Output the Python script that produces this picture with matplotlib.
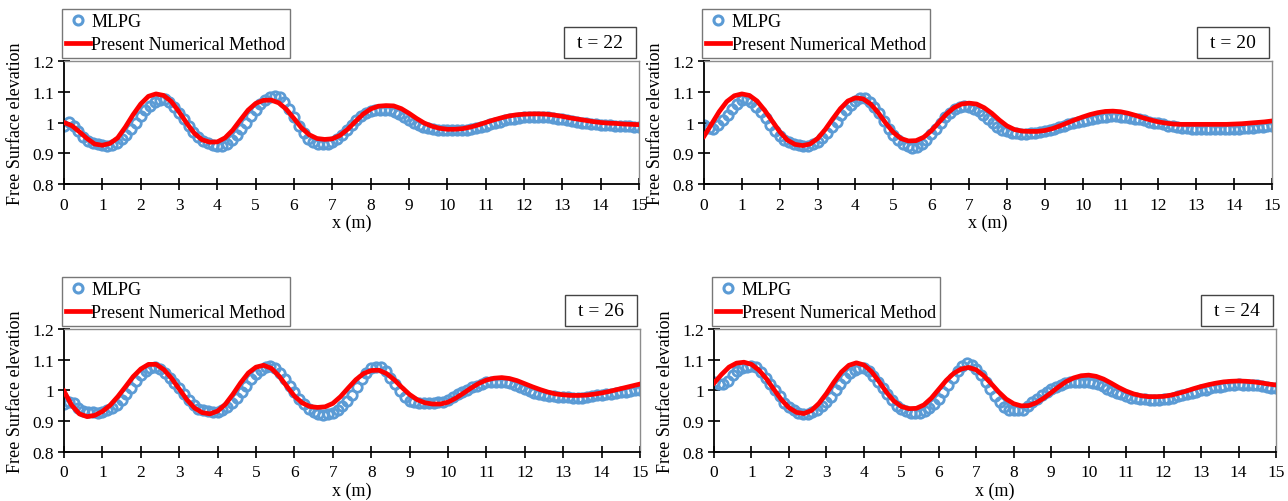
import matplotlib
matplotlib.use("Agg")
import matplotlib.pyplot as plt
from matplotlib.lines import Line2D
from matplotlib.patches import Rectangle

plt.rcParams['font.family'] = ['Liberation Serif', 'DejaVu Serif']

# x positions of the MLPG particles (m), 0.125 m apart
x_mlpg = [0.0, 0.125, 0.25, 0.375, 0.5, 0.625, 0.75, 0.875, 1.0, 1.125,
          1.25, 1.375, 1.5, 1.625, 1.75, 1.875, 2.0, 2.125, 2.25, 2.375,
          2.5, 2.625, 2.75, 2.875, 3.0, 3.125, 3.25, 3.375, 3.5, 3.625,
          3.75, 3.875, 4.0, 4.125, 4.25, 4.375, 4.5, 4.625, 4.75, 4.875,
          5.0, 5.125, 5.25, 5.375, 5.5, 5.625, 5.75, 5.875, 6.0, 6.125,
          6.25, 6.375, 6.5, 6.625, 6.75, 6.875, 7.0, 7.125, 7.25, 7.375,
          7.5, 7.625, 7.75, 7.875, 8.0, 8.125, 8.25, 8.375, 8.5, 8.625,
          8.75, 8.875, 9.0, 9.125, 9.25, 9.375, 9.5, 9.625, 9.75, 9.875,
          10.0, 10.125, 10.25, 10.375, 10.5, 10.625, 10.75, 10.875, 11.0, 11.125,
          11.25, 11.375, 11.5, 11.625, 11.75, 11.875, 12.0, 12.125, 12.25, 12.375,
          12.5, 12.625, 12.75, 12.875, 13.0, 13.125, 13.25, 13.375, 13.5, 13.625,
          13.75, 13.875, 14.0, 14.125, 14.25, 14.375, 14.5, 14.625, 14.75, 14.875,
          15.0]

# x positions of the numerical curve samples (m)
x_num = [0.0, 0.2, 0.4, 0.6, 0.8, 1.0, 1.2, 1.4, 1.6, 1.8,
         2.0, 2.2, 2.4, 2.6, 2.8, 3.0, 3.2, 3.4, 3.6, 3.8,
         4.0, 4.2, 4.4, 4.6, 4.8, 5.0, 5.2, 5.4, 5.6, 5.8,
         6.0, 6.2, 6.4, 6.6, 6.8, 7.0, 7.2, 7.4, 7.6, 7.8,
         8.0, 8.2, 8.4, 8.6, 8.8, 9.0, 9.2, 9.4, 9.6, 9.8,
         10.0, 10.2, 10.4, 10.6, 10.8, 11.0, 11.2, 11.4, 11.6, 11.8,
         12.0, 12.2, 12.4, 12.6, 12.8, 13.0, 13.2, 13.4, 13.6, 13.8,
         14.0, 14.2, 14.4, 14.6, 14.8, 15.0]

# t = 22
mlpg_t22 = [0.990, 1.002, 0.990, 0.972, 0.952, 0.940, 0.934, 0.929, 0.926, 0.925,
            0.927, 0.934, 0.945, 0.960, 0.978, 1.000, 1.020, 1.040, 1.055, 1.067,
            1.074, 1.076, 1.068, 1.052, 1.032, 1.010, 0.988, 0.968, 0.952, 0.940,
            0.932, 0.927, 0.924, 0.925, 0.930, 0.942, 0.958, 0.978, 1.000, 1.022,
            1.042, 1.060, 1.074, 1.083, 1.086, 1.082, 1.068, 1.045, 1.018, 0.990,
            0.965, 0.947, 0.936, 0.930, 0.929, 0.931, 0.936, 0.946, 0.960, 0.976,
            0.993, 1.008, 1.021, 1.030, 1.036, 1.040, 1.042, 1.042, 1.040, 1.035,
            1.027, 1.018, 1.008, 0.999, 0.991, 0.985, 0.981, 0.978, 0.976, 0.975,
            0.974, 0.974, 0.974, 0.975, 0.976, 0.978, 0.981, 0.985, 0.989, 0.994,
            0.998, 1.003, 1.007, 1.010, 1.013, 1.015, 1.017, 1.018, 1.018, 1.018,
            1.018, 1.017, 1.015, 1.013, 1.011, 1.008, 1.005, 1.003, 1.000, 0.998,
            0.996, 0.994, 0.993, 0.992, 0.991, 0.990, 0.989, 0.988, 0.987, 0.986,
            0.984]
num_t22 = [1.000, 0.990, 0.970, 0.948, 0.930, 0.926, 0.932, 0.950, 0.985, 1.025,
           1.060, 1.085, 1.093, 1.088, 1.068, 1.035, 0.998, 0.965, 0.944, 0.936,
           0.937, 0.950, 0.975, 1.008, 1.040, 1.062, 1.072, 1.073, 1.064, 1.043,
           1.013, 0.982, 0.960, 0.948, 0.945, 0.947, 0.958, 0.978, 1.003, 1.027,
           1.044, 1.053, 1.055, 1.054, 1.045, 1.030, 1.013, 0.998, 0.988, 0.981,
           0.978, 0.978, 0.980, 0.985, 0.992, 1.000, 1.008, 1.015, 1.021, 1.025,
           1.027, 1.028, 1.028, 1.027, 1.024, 1.020, 1.015, 1.011, 1.007, 1.003,
           1.000, 0.998, 0.997, 0.995, 0.994, 0.993]

# t = 20
mlpg_t20 = [0.991, 0.982, 0.980, 0.992, 1.008, 1.026, 1.044, 1.060, 1.072, 1.075,
            1.068, 1.052, 1.035, 1.015, 0.993, 0.972, 0.955, 0.944, 0.936, 0.931,
            0.928, 0.925, 0.924, 0.929, 0.938, 0.950, 0.966, 0.984, 1.003, 1.023,
            1.042, 1.058, 1.071, 1.080, 1.080, 1.068, 1.052, 1.030, 1.005, 0.980,
            0.958, 0.942, 0.931, 0.923, 0.918, 0.920, 0.929, 0.943, 0.962, 0.980,
            0.998, 1.017, 1.032, 1.043, 1.051, 1.054, 1.052, 1.045, 1.037, 1.026,
            1.012, 0.998, 0.986, 0.977, 0.971, 0.967, 0.965, 0.964, 0.964, 0.965,
            0.966, 0.969, 0.972, 0.976, 0.980, 0.985, 0.989, 0.994, 0.999, 1.003,
            1.006, 1.009, 1.012, 1.015, 1.017, 1.019, 1.020, 1.020, 1.019, 1.018,
            1.016, 1.013, 1.010, 1.007, 1.003, 1.000, 0.997, 0.994, 0.990, 0.987,
            0.985, 0.983, 0.981, 0.980, 0.979, 0.978, 0.978, 0.978, 0.978, 0.978,
            0.978, 0.978, 0.979, 0.980, 0.981, 0.982, 0.983, 0.985, 0.986, 0.988,
            0.989]
num_t20 = [0.955, 0.995, 1.035, 1.068, 1.087, 1.093, 1.088, 1.070, 1.040, 1.005,
           0.970, 0.943, 0.929, 0.925, 0.930, 0.948, 0.977, 1.012, 1.045, 1.070,
           1.080, 1.077, 1.060, 1.032, 0.998, 0.968, 0.948, 0.940, 0.941, 0.952,
           0.973, 1.000, 1.027, 1.048, 1.060, 1.063, 1.060, 1.048, 1.030, 1.008,
           0.989, 0.977, 0.972, 0.971, 0.971, 0.974, 0.980, 0.989, 0.999, 1.009,
           1.018, 1.026, 1.032, 1.036, 1.037, 1.035, 1.030, 1.023, 1.015, 1.008,
           1.002, 0.998, 0.995, 0.994, 0.994, 0.994, 0.994, 0.994, 0.994, 0.994,
           0.995, 0.996, 0.998, 1.000, 1.002, 1.005]

# t = 26
mlpg_t26 = [0.955, 0.963, 0.958, 0.943, 0.934, 0.931, 0.929, 0.928, 0.930, 0.935,
            0.942, 0.953, 0.968, 0.988, 1.009, 1.030, 1.049, 1.064, 1.074, 1.076,
            1.071, 1.058, 1.042, 1.025, 1.007, 0.987, 0.968, 0.953, 0.941, 0.935,
            0.932, 0.930, 0.931, 0.936, 0.945, 0.958, 0.975, 0.994, 1.015, 1.036,
            1.054, 1.068, 1.078, 1.080, 1.073, 1.057, 1.036, 1.015, 0.994, 0.973,
            0.955, 0.939, 0.929, 0.923, 0.921, 0.922, 0.927, 0.937, 0.951, 0.966,
            0.985, 1.010, 1.036, 1.058, 1.072, 1.078, 1.075, 1.062, 1.042, 1.020,
            0.998, 0.980, 0.967, 0.961, 0.959, 0.959, 0.959, 0.959, 0.961, 0.963,
            0.970, 0.978, 0.987, 0.995, 1.003, 1.010, 1.016, 1.022, 1.027, 1.029,
            1.029, 1.029, 1.027, 1.023, 1.017, 1.012, 1.004, 0.998, 0.993, 0.988,
            0.985, 0.983, 0.981, 0.980, 0.979, 0.978, 0.977, 0.977, 0.977, 0.978,
            0.981, 0.984, 0.986, 0.987, 0.989, 0.991, 0.994, 0.996, 0.999, 1.001,
            1.003]
num_t26 = [0.998, 0.952, 0.924, 0.915, 0.919, 0.932, 0.952, 0.980, 1.012, 1.045,
           1.070, 1.085, 1.085, 1.068, 1.040, 1.005, 0.970, 0.943, 0.928, 0.924,
           0.933, 0.955, 0.988, 1.025, 1.057, 1.076, 1.082, 1.072, 1.047, 1.014,
           0.982, 0.960, 0.948, 0.945, 0.947, 0.958, 0.980, 1.008, 1.035, 1.055,
           1.065, 1.066, 1.055, 1.035, 1.010, 0.987, 0.970, 0.960, 0.956, 0.956,
           0.962, 0.975, 0.991, 1.008, 1.023, 1.034, 1.040, 1.042, 1.039, 1.032,
           1.022, 1.012, 1.003, 0.995, 0.989, 0.986, 0.984, 0.984, 0.985, 0.988,
           0.992, 0.997, 1.003, 1.009, 1.015, 1.021]

# t = 24
mlpg_t24 = [1.029, 1.022, 1.021, 1.030, 1.049, 1.062, 1.072, 1.078, 1.080, 1.076,
            1.060, 1.042, 1.022, 1.002, 0.981, 0.960, 0.945, 0.935, 0.926, 0.922,
            0.925, 0.931, 0.938, 0.948, 0.962, 0.980, 1.001, 1.020, 1.040, 1.056,
            1.068, 1.074, 1.072, 1.062, 1.047, 1.028, 1.008, 0.988, 0.968, 0.951,
            0.940, 0.932, 0.928, 0.927, 0.928, 0.934, 0.943, 0.955, 0.973, 0.996,
            1.017, 1.040, 1.065, 1.081, 1.088, 1.083, 1.070, 1.050, 1.027, 1.005,
            0.983, 0.963, 0.947, 0.938, 0.935, 0.935, 0.937, 0.948, 0.962, 0.973,
            0.985, 0.996, 1.004, 1.011, 1.018, 1.024, 1.028, 1.029, 1.029, 1.029,
            1.028, 1.026, 1.021, 1.014, 1.006, 0.999, 0.993, 0.987, 0.982, 0.977,
            0.974, 0.972, 0.971, 0.970, 0.970, 0.970, 0.971, 0.973, 0.977, 0.982,
            0.986, 0.988, 0.992, 0.996, 1.000, 1.003, 1.007, 1.010, 1.013, 1.016,
            1.018, 1.019, 1.020, 1.019, 1.018, 1.018, 1.017, 1.016, 1.012, 1.008,
            1.009]
num_t24 = [1.024, 1.052, 1.076, 1.089, 1.092, 1.085, 1.066, 1.038, 1.003, 0.970,
           0.944, 0.929, 0.925, 0.935, 0.958, 0.990, 1.027, 1.060, 1.082, 1.090,
           1.083, 1.062, 1.030, 0.995, 0.966, 0.948, 0.941, 0.942, 0.953, 0.975,
           1.004, 1.033, 1.056, 1.070, 1.075, 1.067, 1.048, 1.022, 0.995, 0.972,
           0.957, 0.950, 0.951, 0.960, 0.975, 0.993, 1.012, 1.029, 1.041, 1.048,
           1.050, 1.046, 1.037, 1.024, 1.010, 0.998, 0.989, 0.983, 0.980, 0.980,
           0.981, 0.985, 0.991, 0.998, 1.006, 1.013, 1.019, 1.024, 1.028, 1.030,
           1.031, 1.030, 1.028, 1.025, 1.021, 1.018]

panels = [("t = 22", mlpg_t22, num_t22),
          ("t = 20", mlpg_t20, num_t20),
          ("t = 26", mlpg_t26, num_t26),
          ("t = 24", mlpg_t24, num_t24)]

W, H = 1288, 502
# axes rectangles in pixels: left, right, top, bottom
boxes_px = [(64, 639, 62, 185),
            (704, 1272, 62, 185),
            (64, 640, 330, 453),
            (714, 1276, 330, 453)]

fig = plt.figure(figsize=(W / 100, H / 100), dpi=100)

blue = '#5B9BD5'
red = '#FF0000'

for (title, mlpg, num), (l, r, t, b) in zip(panels, boxes_px):
    ax = fig.add_axes([l / W, 1 - b / H, (r - l) / W, (b - t) / H])
    wpx, hpx = r - l, b - t
    ax.plot(x_mlpg, mlpg, 'o', ms=6.8, mfc='none', mec=blue, mew=2.0, zorder=2)
    ax.plot(x_num, num, '-', color=red, lw=3.4, zorder=3)
    ax.set_xlim(0, 15)
    ax.set_ylim(0.8, 1.2)
    ax.set_xticks(range(0, 16))
    ax.set_yticks([0.8, 0.9, 1.0, 1.1, 1.2])
    ax.set_yticklabels(['0.8', '0.9', '1', '1.1', '1.2'])
    ax.tick_params(direction='inout', length=8, width=1.2, labelsize=12.5)
    ax.tick_params(axis='x', pad=5)
    ax.tick_params(axis='y', pad=3)
    for s in ['left', 'bottom']:
        ax.spines[s].set_color('black')
        ax.spines[s].set_linewidth(1.3)
    for s in ['top', 'right']:
        ax.spines[s].set_color('#8c8c8c')
        ax.spines[s].set_linewidth(1.0)
    ax.set_xlabel('x (m)', fontsize=13, labelpad=1)
    ax.set_ylabel('Free Surface elevation', fontsize=13, labelpad=6)

    handles = [Line2D([], [], ls='none', marker='o', ms=6.5, mfc='none', mec=blue, mew=2.2),
               Line2D([], [], color=red, lw=3.4)]
    leg = ax.legend(handles, ['MLPG', 'Present Numerical Method'],
                    loc='lower left', bbox_to_anchor=(-0.004, 1 + 3 / hpx),
                    fontsize=13, frameon=True, fancybox=False,
                    handlelength=1.3, handletextpad=0.1, labelspacing=0.35,
                    borderpad=0.25, borderaxespad=0)
    leg.get_frame().set_edgecolor('#555555')
    leg.get_frame().set_linewidth(1.0)

    # "t = .." box above the right end of the axes
    bx1 = 1 - 3 / wpx
    bx0 = bx1 - 72 / wpx
    by0 = 1 + 3 / hpx
    by1 = by0 + 31 / hpx
    ax.add_patch(Rectangle((bx0, by0), bx1 - bx0, by1 - by0, transform=ax.transAxes,
                           fc='white', ec='#444444', lw=1.0, clip_on=False))
    ax.text((bx0 + bx1) / 2, (by0 + by1) / 2, title, transform=ax.transAxes,
            fontsize=14, ha='center', va='center')

fig.savefig('out.png', dpi=100)
